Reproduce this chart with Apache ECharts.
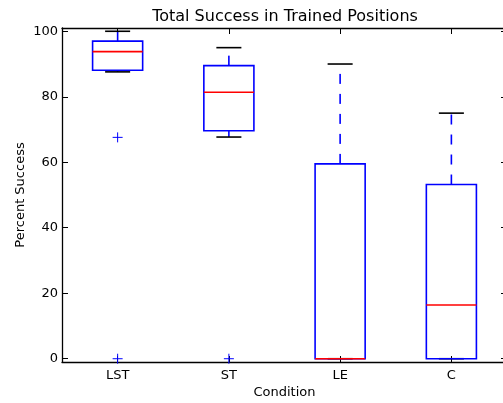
<!DOCTYPE html>
<html>
<head>
<meta charset="utf-8">
<script src="https://cdn.jsdelivr.net/npm/echarts@6/dist/echarts.min.js"></script>
<style>
html,body{margin:0;padding:0;background:#fff;}
#chart{width:503px;height:403px;}
</style>
</head>
<body>
<div id="chart"></div>
<script>
var categories = ['LST', 'ST', 'LE', 'C'];
var whiskerLow = [87.6, 67.7, 0, 0];
var q1 = [88.1, 69.6, 0, 0];
var median = [93.8, 81.4, 0, 16.4];
var q3 = [97.0, 89.5, 59.5, 53.2];
var whiskerHigh = [100, 95, 90, 75];
var outlierCat = [0, 0, 1];
var outlierVal = [67.6, 0, 0];
var yTicks = [0, 20, 40, 60, 80, 100];

var boxData = categories.map(function (c, i) {
  return [i, whiskerLow[i], q1[i], median[i], q3[i], whiskerHigh[i]];
});
var outData = outlierCat.map(function (c, i) { return [c, outlierVal[i]]; });

var FONT = 'DejaVu Sans';
var BLUE = '#0000ff';

function boxRender(params, api) {
  var idx = api.value(0);
  var bw = api.size([1, 0])[0];
  var hb = bw * 0.225, hc = bw * 0.1125;
  var pLow = api.coord([idx, api.value(1)]);
  var pQ1 = api.coord([idx, api.value(2)]);
  var pMed = api.coord([idx, api.value(3)]);
  var pQ3 = api.coord([idx, api.value(4)]);
  var pHigh = api.coord([idx, api.value(5)]);
  var x = pQ1[0];
  var lw = 1.6;
  var children = [];
  children.push({type: 'line', shape: {x1: x, y1: pQ3[1], x2: x, y2: pHigh[1]},
    style: {stroke: BLUE, lineWidth: lw, lineDash: [10, 10], fill: null}});
  children.push({type: 'line', shape: {x1: x, y1: pQ1[1], x2: x, y2: pLow[1]},
    style: {stroke: BLUE, lineWidth: lw, lineDash: [10, 10], fill: null}});
  children.push({type: 'line', shape: {x1: x - hc, y1: pHigh[1], x2: x + hc, y2: pHigh[1]},
    style: {stroke: '#000', lineWidth: lw, fill: null}});
  children.push({type: 'line', shape: {x1: x - hc, y1: pLow[1], x2: x + hc, y2: pLow[1]},
    style: {stroke: '#000', lineWidth: lw, fill: null}});
  children.push({type: 'rect', shape: {x: x - hb, y: pQ3[1], width: 2 * hb, height: pQ1[1] - pQ3[1]},
    style: {stroke: BLUE, lineWidth: lw, fill: null}});
  children.push({type: 'line', shape: {x1: x - hb, y1: pMed[1], x2: x + hb, y2: pMed[1]},
    style: {stroke: '#ff0000', lineWidth: lw, fill: null}});
  return {type: 'group', children: children};
}

function outRender(params, api) {
  var p = api.coord([api.value(0), api.value(1)]);
  var s = 5;
  return {type: 'group', children: [
    {type: 'line', shape: {x1: p[0] - s, y1: p[1], x2: p[0] + s, y2: p[1]}, style: {stroke: BLUE, lineWidth: 1}},
    {type: 'line', shape: {x1: p[0], y1: p[1] - s, x2: p[0], y2: p[1] + s}, style: {stroke: BLUE, lineWidth: 1}}
  ]};
}

var chart = echarts.init(document.getElementById('chart'), null, {renderer: 'canvas'});
var axisLineStyle = {color: '#000', width: 1.3};
chart.setOption({
  animation: false,
  backgroundColor: '#fff',
  title: {
    text: 'Total Success in Trained Positions',
    left: 280, textAlign: 'center', top: 4,
    textStyle: {fontFamily: FONT, fontSize: 16, fontWeight: 'normal', color: '#000'}
  },
  grid: {left: 62, right: -4, top: 28, bottom: 41, containLabel: false, outerBoundsMode: 'none'},
  xAxis: [{
    type: 'category', data: categories, position: 'bottom',
    boundaryGap: true,
    name: 'Condition', nameLocation: 'middle', nameGap: 24, nameMoveOverlap: false,
    nameTextStyle: {fontFamily: FONT, fontSize: 13, color: '#000'},
    axisLine: {show: true, onZero: false, lineStyle: axisLineStyle},
    axisTick: {show: true, inside: true, alignWithLabel: true, length: 6, lineStyle: {color: '#000'}},
    axisLabel: {fontFamily: FONT, fontSize: 13, color: '#000', margin: 7},
    splitLine: {show: false}
  }, {
    type: 'category', data: categories, position: 'top',
    boundaryGap: true,
    axisLine: {show: true, onZero: false, lineStyle: axisLineStyle},
    axisTick: {show: true, inside: true, alignWithLabel: true, length: 6, lineStyle: {color: '#000'}},
    axisLabel: {show: false},
    splitLine: {show: false}
  }],
  yAxis: [{
    type: 'value', min: -1, max: 101, position: 'left',
    name: 'Percent Success', nameLocation: 'middle', nameGap: 35, nameMoveOverlap: false,
    nameTextStyle: {fontFamily: FONT, fontSize: 13, color: '#000'},
    axisLine: {show: true, onZero: false, lineStyle: axisLineStyle},
    axisTick: {show: true, inside: true, length: 6, customValues: yTicks, lineStyle: {color: '#000'}},
    axisLabel: {fontFamily: FONT, fontSize: 13, color: '#000', margin: 4, customValues: yTicks},
    splitLine: {show: false}
  }, {
    type: 'value', min: -1, max: 101, position: 'right',
    axisLine: {show: true, onZero: false, lineStyle: axisLineStyle},
    axisTick: {show: true, inside: true, length: 6, customValues: yTicks, lineStyle: {color: '#000'}},
    axisLabel: {show: false},
    splitLine: {show: false}
  }],
  series: [{
    type: 'custom', renderItem: boxRender, data: boxData,
    encode: {x: 0, y: [1, 2, 3, 4, 5]}, clip: false
  }, {
    type: 'custom', renderItem: outRender, data: outData,
    encode: {x: 0, y: 1}, clip: false
  }]
});
</script>
</body>
</html>
